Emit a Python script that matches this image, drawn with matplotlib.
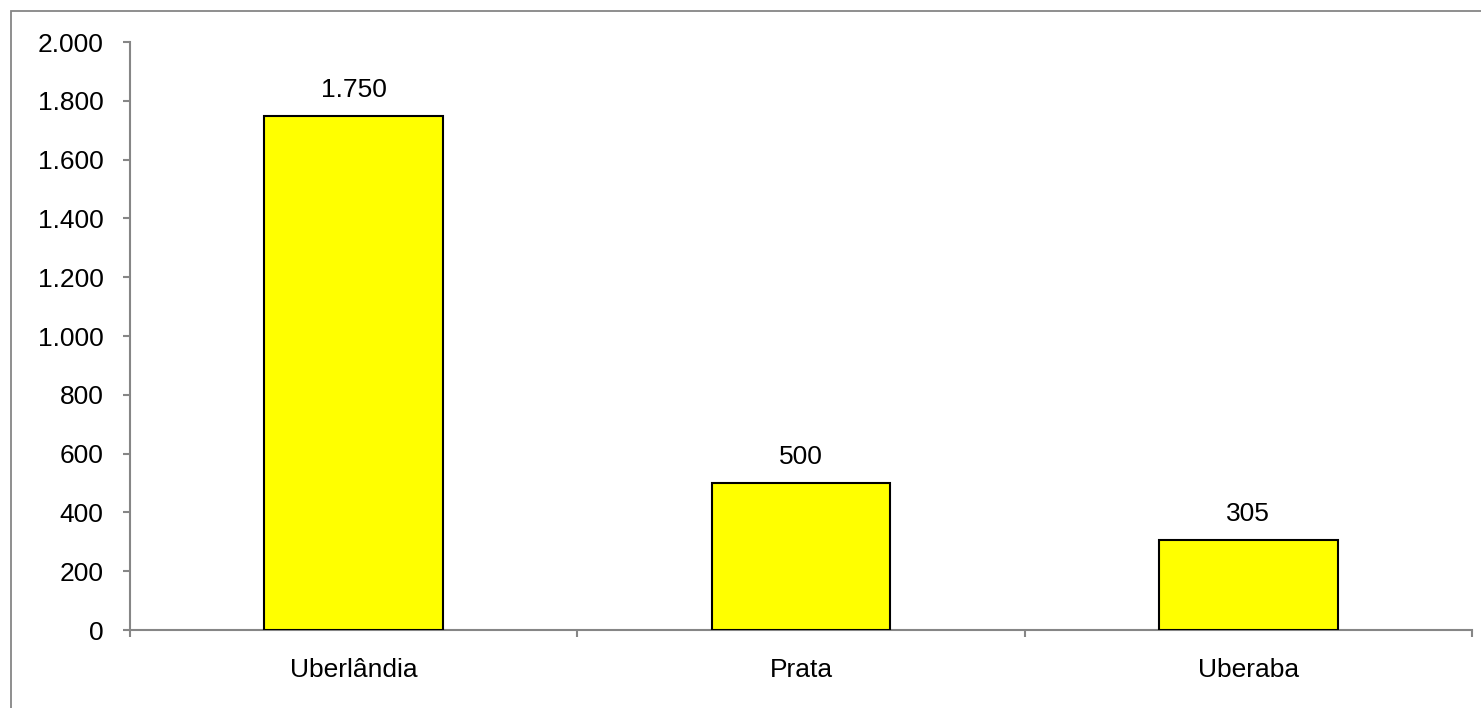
import matplotlib

matplotlib.use("Agg")
import matplotlib.pyplot as plt
from matplotlib.patches import Rectangle
from matplotlib.ticker import FuncFormatter, FixedLocator
import numpy as np

# Data
CITIES = ["Uberlândia", "Prata", "Uberaba"]
VALUES = [1750, 500, 305]
Y_TICKS = [0, 200, 400, 600, 800, 1000, 1200, 1400, 1600, 1800, 2000]

BAR_COLOR = "#FFFF00"
AXIS_GREY = "#868686"
FONT = "Liberation Sans"
FS = 19


def br_fmt(v, _pos=None):
    return f"{int(v):,}".replace(",", ".")


plt.rcParams["font.family"] = [FONT, "DejaVu Sans"]

fig = plt.figure(figsize=(14.81, 7.08), dpi=100)
ax = fig.add_axes([130 / 1481, 1 - 630 / 708, (1472 - 130) / 1481, (630 - 42) / 708])

# outer chart-area border (right and bottom fall outside the image)
fig.patches.append(Rectangle((11 / 1481, -0.05), 1.05, 1 - 11 / 708 + 0.05,
                             transform=fig.transFigure, fill=False,
                             edgecolor=AXIS_GREY, linewidth=1.3))

x = np.arange(len(CITIES))
bars = ax.bar(x, VALUES, width=0.4, color=BAR_COLOR, edgecolor="black", linewidth=1.5, zorder=3)

for xi, v in zip(x, VALUES):
    ax.annotate(br_fmt(v), (xi, v), xytext=(0, 10), textcoords="offset points",
                ha="center", va="bottom", fontsize=FS)

ax.set_xlim(-0.5, len(CITIES) - 0.5)
ax.set_ylim(0, 2000)
ax.set_yticks(Y_TICKS)
ax.yaxis.set_major_formatter(FuncFormatter(br_fmt))

ax.set_xticks(x)
ax.set_xticklabels(CITIES)
ax.xaxis.set_minor_locator(FixedLocator(np.arange(len(CITIES) + 1) - 0.5))
ax.tick_params(axis="x", which="major", length=0, pad=20, labelsize=FS)
ax.tick_params(axis="x", which="minor", length=5, width=1.5, color=AXIS_GREY)
ax.tick_params(axis="y", length=5, width=1.5, color=AXIS_GREY, pad=14, labelsize=FS)

for side in ["top", "right"]:
    ax.spines[side].set_visible(False)
for side in ["left", "bottom"]:
    ax.spines[side].set_color(AXIS_GREY)
    ax.spines[side].set_linewidth(1.5)

fig.savefig("out.png", dpi=100)
